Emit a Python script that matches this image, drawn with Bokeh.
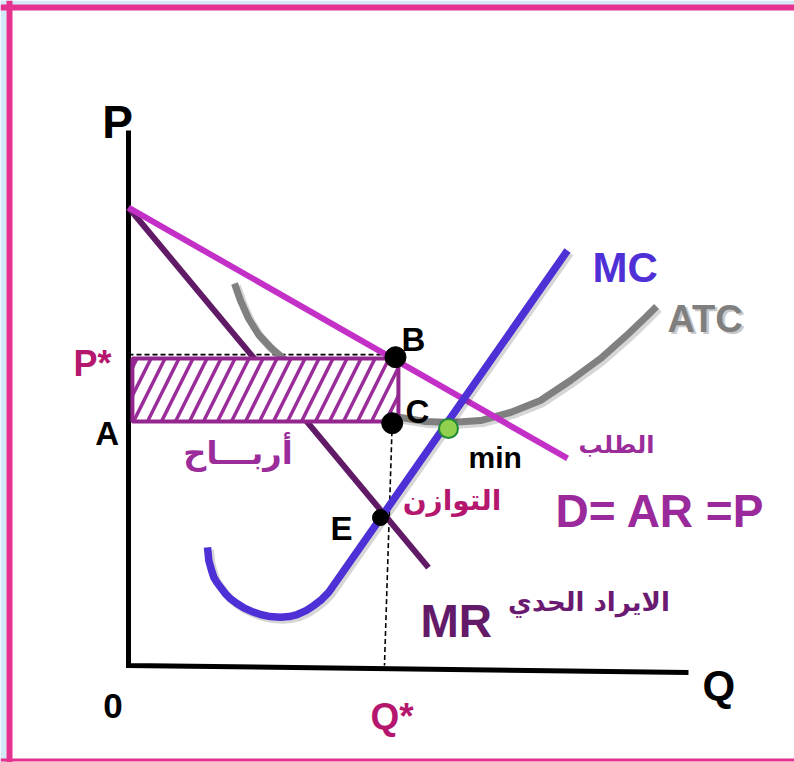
from bokeh.plotting import figure
from bokeh.models import Range1d, Span
from bokeh.core.properties import value
from bokeh.embed import file_html
from bokeh.resources import INLINE

# ---------------- data (economic units: Q horizontal, P vertical) ----------------
axis_q = [0.0, 0.0, 10.0]
axis_p = [10.0, 0.0, -0.13]

demand_q = [0.0, 7.84]
demand_p = [8.56, 3.87]

mr_q = [0.0, 5.357]
mr_p = [8.56, 1.83]

mc_q = [1.411, 1.434, 1.480, 1.523, 1.580, 1.643, 1.725, 1.821, 1.935, 2.059, 2.200, 2.357,
        2.530, 2.714, 2.870, 3.013, 3.170, 3.309, 3.450, 3.577, 7.839]
mc_p = [2.206, 1.963, 1.790, 1.650, 1.550, 1.464, 1.350, 1.247, 1.160, 1.079, 1.010, 0.953,
        0.915, 0.903, 0.915, 0.953, 1.025, 1.121, 1.235, 1.370, 7.757]

atc_q = [1.893, 2.000, 2.143, 2.321, 2.536, 2.804, 3.250, 3.786, 4.321, 4.857, 5.304,
         5.750, 6.286, 6.821, 7.357, 7.893, 8.429, 8.875, 9.232, 9.429]
atc_p = [7.140, 6.822, 6.486, 6.187, 5.944, 5.701, 5.364, 5.047, 4.804, 4.636, 4.561,
         4.542, 4.579, 4.729, 4.953, 5.327, 5.738, 6.150, 6.505, 6.710]

profit_q = [0.07, 4.82]
profit_p = [4.56, 5.74]

pstar_q = [0.0, 4.77]
pstar_p = [5.81, 5.81]
qstar_q = [4.709, 4.571]
qstar_p = [4.529, 0.0]

black_pts_q = [4.768, 4.709]      # B, C
black_pts_p = [5.763, 4.529]
e_q = [4.50]
e_p = [2.766]
min_q = [5.714]
min_p = [4.43]

# ---------------- figure ----------------
W, H = 794, 762
p = figure(width=W, height=H, output_backend="svg", toolbar_location=None,
           x_range=Range1d(-2.2857, 11.893), y_range=Range1d(-1.813, 12.430),
           min_border=0)
p.axis.visible = False
p.grid.visible = False
p.outline_line_color = None
p.background_fill_color = "white"
p.border_fill_color = "white"

PINK = "#e4328e"
SKY = "#d4e9f7"
p.add_layout(Span(location=-2.232, dimension="height", line_color=SKY, line_width=6))
p.add_layout(Span(location=12.393, dimension="width", line_color=SKY, line_width=4))
p.add_layout(Span(location=-2.125, dimension="height", line_color=PINK, line_width=6))
p.add_layout(Span(location=12.299, dimension="width", line_color=PINK, line_width=6))
p.add_layout(Span(location=-1.766, dimension="width", line_color=PINK, line_width=3))

sx = 2.5 / 56.0
sy = 2.5 / 53.5

# axes
p.line(axis_q, axis_p, line_color="black", line_width=5, line_join="miter")

# dashed guide lines
p.line(pstar_q, pstar_p, line_color="black", line_width=1.6, line_dash="5 3")
p.line(qstar_q, qstar_p, line_color="black", line_width=1.6, line_dash="5 3")

# MR
p.line(mr_q, mr_p, line_color="#611a66", line_width=6)

# ATC with soft shadow
p.line([q + sx for q in atc_q], [v - sy for v in atc_p], line_color="black",
       line_alpha=0.16, line_width=8, line_join="round")
p.line(atc_q, atc_p, line_color="#808080", line_width=7, line_join="round")

# profit rectangle
p.quad(left=[profit_q[0]], right=[profit_q[1]], bottom=[profit_p[0]], top=[profit_p[1]],
       fill_color="white", hatch_pattern="/", hatch_color="#9b2d9b", hatch_scale=28,
       hatch_weight=3.5, line_color="#93278f", line_width=4)

# demand
p.line(demand_q, demand_p, line_color="#c330c8", line_width=6)

# MC with soft shadow
p.line([q + sx for q in mc_q], [v - sy for v in mc_p], line_color="black",
       line_alpha=0.16, line_width=8, line_join="round")
p.line(mc_q, mc_p, line_color="#4f2fd6", line_width=7.5, line_join="round")

# points
p.scatter(black_pts_q, black_pts_p, size=21, fill_color="black", line_color="black")
p.scatter(e_q, e_p, size=16, fill_color="black", line_color="black")
p.scatter(min_q, min_p, size=19, fill_color="#92d050", line_color="#1f8a35", line_width=2)

LAT = value("Liberation Sans")
ARB = value("DejaVu Sans")


def label(x, y, txt, size, color, font=LAT, style="bold", align="left", baseline="alphabetic"):
    p.text(x=[x], y=[y], text=[txt], text_font=font, text_font_size=f"{size}px",
           text_font_style=style, text_color=color, text_align=align,
           text_baseline=baseline)


label(-0.196, 10.168, "P", 46, "black", align="center")
label(-0.982, 5.645, "P*", 36, "#b5176e")
label(-0.17, 4.336, "A", 33, "black", align="right")
label(4.875, 6.093, "B", 33, "black")
label(4.946, 4.748, "C", 33, "black")
label(3.607, 2.561, "E", 33, "black")
label(6.071, 3.888, "min", 30, "black")
label(7.625, 2.897, "D= AR =P", 46, "#9a2a9c")
label(5.214, 0.841, "MR", 46, "#631a69")
label(8.286, 7.439, "MC", 42, "#4f2fd6")
label(9.625 + sx, 6.486 - sy, "ATC", 38, "#c8c8c8")
label(9.625, 6.486, "ATC", 38, "#7f7f7f")
label(10.25, -0.374, "Q", 42, "black")
label(-0.277, -0.748, "0", 35, "black", align="center")
label(4.321, -0.953, "Q*", 37, "#b5176e")

label(8.714, 4.12, "الطلب", 24, "#9b2d9b", font=ARB, style="bold", align="center", baseline="middle")
label(5.777, 3.084, "التوازن", 28, "#b5176e", font=ARB, style="bold", align="center", baseline="middle")
label(8.223, 1.178, "الايراد الحدي", 26, "#6a1a70", font=ARB, style="bold", align="center", baseline="middle")
label(1.955, 3.981, "أربـــاح", 32, "#9b2d9b", font=ARB, style="bold", align="center", baseline="middle")

open("out.html", "w").write(file_html(p, INLINE))
